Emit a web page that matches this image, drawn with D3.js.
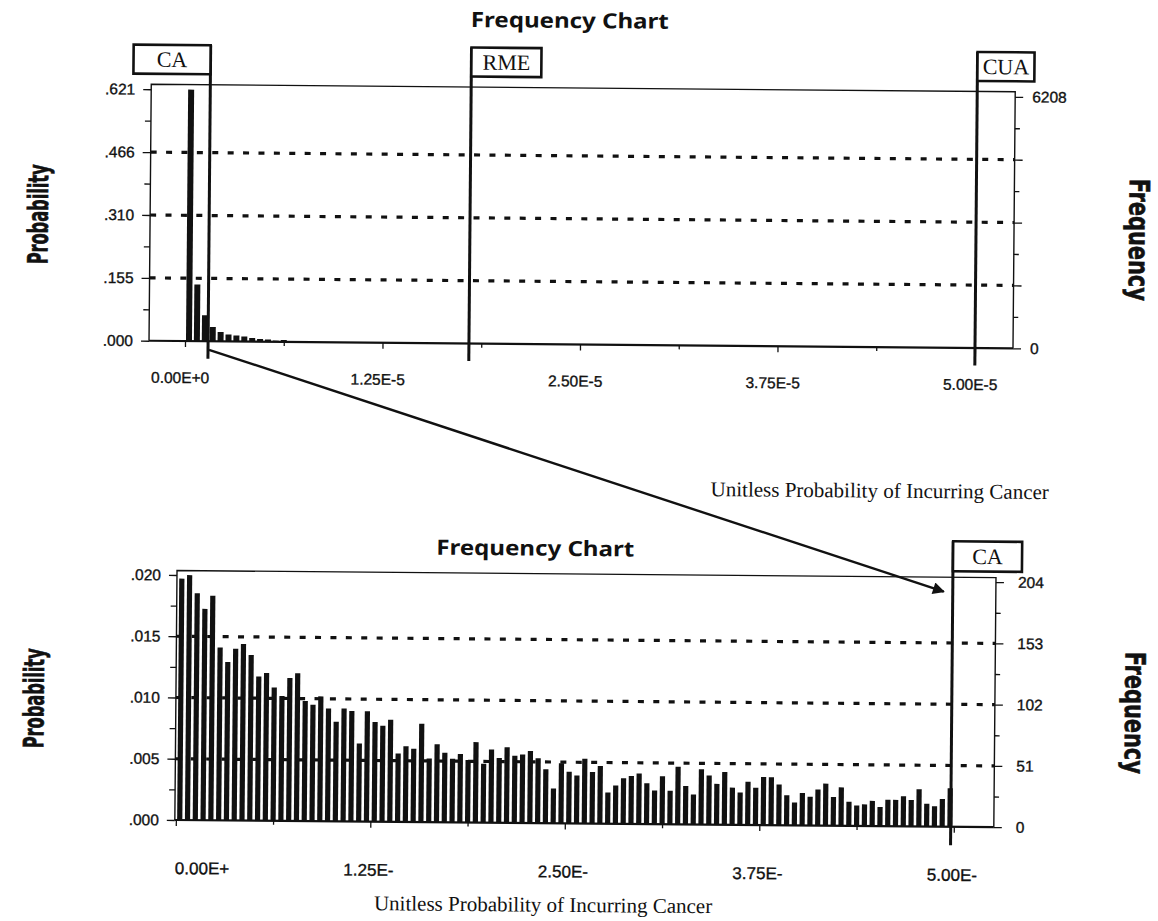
<!DOCTYPE html>
<html><head><meta charset="utf-8">
<script src="https://cdn.jsdelivr.net/npm/d3@7/dist/d3.min.js"></script>
<style>body{margin:0;background:#fff} svg{display:block}</style>
</head><body>
<svg id="c" width="1158" height="921"></svg>
<script>
// ---------- data ----------
const trials = 10000;
const topBinWidth = 5e-7;
const topCounts = [6208,1397,640,352,229,172,148,123,91,66,57,30,49,20,15];
const bottomBinWidth = 5e-9;
const bottomCounts = [
 201,204,189,176,187,144,132,143,147,138,
 120,123,111,104,119,123,100,97,104,94,
 83,94,92,65,92,83,80,85,57,63,
 61,82,53,65,58,53,57,52,67,49,
 61,54,63,56,57,60,54,45,29,50,
 43,40,54,43,48,26,32,38,40,42,
 34,28,40,28,48,32,25,46,41,34,
 44,31,27,36,31,40,40,34,25,19,
 27,24,30,35,24,32,20,17,18,21,
 16,22,22,25,22,31,19,17,23,32];
const topXTicks = [0, 1.25e-5, 2.5e-5, 3.75e-5, 5e-5];
const topXLabels = ["0.00E+0","1.25E-5","2.50E-5","3.75E-5","5.00E-5"];
const bottomXTicks = [0, 1.25e-7, 2.5e-7, 3.75e-7, 5e-7];
const bottomXLabels = ["0.00E+","1.25E-","2.50E-","3.75E-","5.00E-"];
const topYTicks = [0, 0.1552, 0.3104, 0.4656, 0.6208];
const topYLabels = [".000",".155",".310",".466",".621"];
const topFreqLabels = ["0","","","","6208"];
const bottomYTicks = [0, 0.0051, 0.0102, 0.0153, 0.0204];
const bottomYLabels = [".000",".005",".010",".015",".020"];
const bottomFreqLabels = ["0","51","102","153","204"];
const topMarkers = [
  {name:"CA", value:1.46e-6, side:"left"},
  {name:"RME", value:1.797e-5, side:"right"},
  {name:"CUA", value:5.0e-5, side:"right"}];
const bottomMarkers = [{name:"CA", value:4.98e-7, side:"right"}];
const chartTitle = "Frequency Chart";
const xTitle = "Unitless Probability of Incurring Cancer";
const yTitle = "Probability";
const y2Title = "Frequency";

// ---------- drawing ----------
const svg = d3.select("#c");
const root = svg.append("g").attr("transform","rotate(0.5 579 460)");
const INK = "#111";
const sans = "'Liberation Sans', Arial, sans-serif";
const serif = "'Liberation Serif', 'Times New Roman', serif";

function panel(o){
  const g = root.append("g");
  const x = d3.scaleLinear().domain(o.xDomain).range(o.xRange);
  const y = d3.scaleLinear().domain(o.yDomain).range([o.b, o.t0]);
  const minorY = o.yTicks.slice(0,-1).map((v,i)=> (v+o.yTicks[i+1])/2);
  const minorX = o.xTicks.slice(0,-1).map((v,i)=> (v+o.xTicks[i+1])/2);

  // dashed grid
  g.append("g").selectAll("line").data(o.yTicks.slice(1,-1)).join("line")
    .attr("x1",o.l).attr("x2",o.r).attr("y1",d=>y(d)).attr("y2",d=>y(d))
    .attr("stroke",INK).attr("stroke-width",3.2).attr("stroke-dasharray","6 9.4");

  // bars
  g.append("g").selectAll("rect").data(o.counts).join("rect")
    .attr("x",(d,i)=> x((i+0.5)*o.binW) - o.barW/2)
    .attr("width",o.barW)
    .attr("y",d=> y(d/trials))
    .attr("height",d=> o.b - y(d/trials))
    .attr("fill",INK);

  // frame
  g.append("path")
    .attr("d",`M${o.l},${o.b} L${o.l},${o.t} L${o.r},${o.t} L${o.r},${o.b}`)
    .attr("fill","none").attr("stroke",INK).attr("stroke-width",1.4);
  g.append("line").attr("x1",o.l).attr("x2",o.r).attr("y1",o.b).attr("y2",o.b)
    .attr("stroke",INK).attr("stroke-width",2.2);

  // left axis
  const la = g.append("g").attr("transform",`translate(${o.l},0)`)
    .call(d3.axisLeft(y).tickValues(o.yTicks).tickSize(8).tickPadding(8)
      .tickFormat((d,i)=>o.yLabels[i]));
  const lm = g.append("g").attr("transform",`translate(${o.l},0)`)
    .call(d3.axisLeft(y).tickValues(minorY).tickSize(6).tickFormat(""));
  // right axis
  const ra = g.append("g").attr("transform",`translate(${o.r},0)`)
    .call(d3.axisRight(y).tickValues(o.yTicks).tickSize(8).tickPadding(o.rPad)
      .tickFormat((d,i)=>o.freqLabels[i]));
  const rm = g.append("g").attr("transform",`translate(${o.r},0)`)
    .call(d3.axisRight(y).tickValues(minorY).tickSize(5).tickFormat(""));
  // bottom axis
  const ba = g.append("g").attr("transform",`translate(0,${o.b})`)
    .call(d3.axisBottom(x).tickValues(o.xTicks).tickSize(6).tickPadding(o.xPad)
      .tickFormat((d,i)=>o.xLabels[i]));
  const bm = g.append("g").attr("transform",`translate(0,${o.b})`)
    .call(d3.axisBottom(x).tickValues(minorX).tickSize(4).tickFormat(""));
  [la,lm,ra,rm,ba,bm].forEach(a=>{
    a.select(".domain").remove();
    a.selectAll("line").attr("stroke",INK).attr("stroke-width",1.3);
    a.selectAll("text").attr("fill",INK).attr("stroke",INK).attr("stroke-width",0.35)
      .style("font-family",sans);
  });
  la.selectAll("text").style("font-size","15.5px");
  ra.selectAll("text").style("font-size","15.5px");
  ba.selectAll("text").style("font-size",o.xFont+"px").attr("dx",o.xDx);
  if(o.firstStart) ba.select(".tick text").attr("text-anchor","start").attr("dx",-1);

  // markers
  o.markers.forEach(m=>{
    const mx = x(m.value);
    g.append("line").attr("x1",mx).attr("x2",mx).attr("y1",o.boxTop).attr("y2",o.mBottom)
      .attr("stroke",INK).attr("stroke-width",3);
    const w = o.boxW(m.name);
    const bx = m.side==="left" ? mx - w : mx;
    g.append("rect").attr("x",bx).attr("y",o.boxTop).attr("width",w).attr("height",o.boxH)
      .attr("fill","#fff").attr("stroke",INK).attr("stroke-width",2.6);
    g.append("text").attr("x",bx+w/2).attr("y",o.boxTop+o.boxH/2+7.5)
      .attr("text-anchor","middle").style("font-family",serif).style("font-size","22px")
      .attr("fill",INK).text(m.name);
  });

  // titles
  g.append("text").attr("x",o.titleX).attr("y",o.titleY).attr("text-anchor","middle")
    .style("font-family","'Noto Sans', 'DejaVu Sans', sans-serif").style("font-weight","bold")
    .style("font-size","21px").attr("textLength",198).attr("lengthAdjust","spacingAndGlyphs")
    .attr("fill",INK).text(chartTitle);
  g.append("text").attr("transform",`translate(${o.yTitleX},${o.yTitleY}) rotate(-90)`)
    .attr("text-anchor","middle").attr("dy","0.35em")
    .style("font-family","'Liberation Sans Narrow', 'DejaVu Sans Condensed', sans-serif")
    .style("font-weight","bold").style("font-size","28px")
    .attr("stroke",INK).attr("stroke-width",0.6)
    .attr("textLength",100).attr("lengthAdjust","spacingAndGlyphs")
    .attr("fill",INK).text(yTitle);
  g.append("text").attr("transform",`translate(${o.y2TitleX},${o.y2TitleY}) rotate(90)`)
    .attr("text-anchor","middle").attr("dy","0.35em")
    .style("font-family","'Liberation Sans Narrow', 'DejaVu Sans Condensed', sans-serif")
    .style("font-weight","bold").style("font-size","28px")
    .attr("stroke",INK).attr("stroke-width",0.6)
    .attr("textLength",122).attr("lengthAdjust","spacingAndGlyphs")
    .attr("fill",INK).text(y2Title);
  g.append("text").attr("x",o.xTitleX).attr("y",o.xTitleY).attr("text-anchor","middle")
    .style("font-family",serif).style("font-size","21px").attr("fill",INK).text(xTitle);
  return {x,y};
}

const boxWidths = {CA:77, RME:70, CUA:57};
const topP = panel({
  l:148, r:1012, t:88, t0:93, b:344.5,
  xDomain:[0,5e-5], xRange:[184,974], yDomain:[0,0.6208],
  counts:topCounts, binW:topBinWidth, barW:6,
  yTicks:topYTicks, yLabels:topYLabels, freqLabels:topFreqLabels, rPad:9,
  xTicks:topXTicks, xLabels:topXLabels, xPad:25, xFont:15.5, xDx:-5, firstStart:false,
  markers:topMarkers, boxTop:48.5, boxH:29, mBottom:362, boxW:n=>boxWidths[n],
  titleX:566, titleY:28, yTitleX:36, yTitleY:219, y2TitleX:1137, y2TitleY:235,
  xTitleX:880, xTitleY:495
});
const botP = panel({
  l:178, r:997, t:574, t0:578.5, b:823.5,
  xDomain:[0,5e-7], xRange:[179,957], yDomain:[0,0.0204],
  counts:bottomCounts, binW:bottomBinWidth, barW:5.2,
  yTicks:bottomYTicks, yLabels:bottomYLabels, freqLabels:bottomFreqLabels, rPad:14,
  xTicks:bottomXTicks, xLabels:bottomXLabels, xPad:36, xFont:17, xDx:-2, firstStart:true,
  markers:bottomMarkers, boxTop:538, boxH:30, mBottom:842, boxW:()=>69,
  titleX:536, titleY:556, yTitleX:36, yTitleY:703, y2TitleX:1137, y2TitleY:708,
  xTitleX:547, xTitleY:912
});

// zoom arrow: from the CA marker of the top chart to the CA marker of the bottom chart
const a0 = [topP.x(topMarkers[0].value)+1, 353];
const a1 = [botP.x(bottomMarkers[0].value)-9, 588.5];
const defs = svg.append("defs");
defs.append("marker").attr("id","ah").attr("viewBox","0 0 10 10").attr("refX",9).attr("refY",5)
  .attr("markerWidth",6).attr("markerHeight",5).attr("markerUnits","strokeWidth").attr("orient","auto")
  .append("path").attr("d","M0,0 L10,5 L0,10 z").attr("fill",INK);
root.append("line").attr("x1",a0[0]).attr("y1",a0[1]).attr("x2",a1[0]).attr("y2",a1[1])
  .attr("stroke",INK).attr("stroke-width",2.4).attr("marker-end","url(#ah)");
</script>
</body></html>
